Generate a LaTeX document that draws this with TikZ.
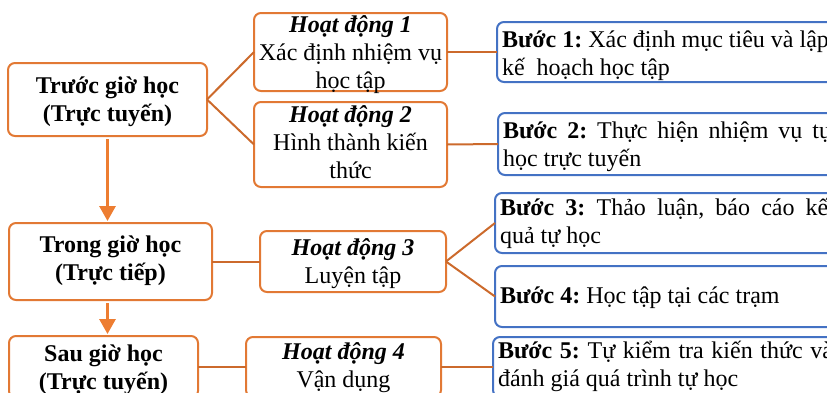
\documentclass[tikz,border=0pt]{standalone}
\usepackage{fontspec}
\setmainfont{Liberation Serif}
\usetikzlibrary{positioning,arrows.meta}
\definecolor{boxorange}{RGB}{226,121,52}
\definecolor{linkorange}{RGB}{204,106,44}
\definecolor{arroworange}{RGB}{237,125,49}
\definecolor{stepblue}{RGB}{68,114,196}
\frenchspacing
\hyphenpenalty=10000
\exhyphenpenalty=10000
\tolerance=10000
\tikzset{phase node/.style={draw=boxorange,line width=2pt,rounded corners=7pt,align=center,inner sep=0pt,outer sep=0pt,anchor=north west,font=\bfseries\fontsize{24}{27.6}\selectfont}}
\tikzset{task node/.style={draw=boxorange,line width=2pt,rounded corners=7pt,align=center,inner sep=0pt,outer sep=0pt,anchor=north west,font=\fontsize{24}{27.6}\selectfont}}
\tikzset{step node/.style={draw=stepblue,line width=2pt,rounded corners=7pt,text width=335pt,align=justify,inner xsep=5pt,inner ysep=0pt,outer sep=0pt,anchor=north west,font=\fontsize{24}{28}\selectfont}}
\tikzset{link line/.style={draw=linkorange,line width=2pt}}
\tikzset{flow arrow/.style={draw=arroworange,line width=3pt,-{Triangle[width=16pt,length=15pt]},shorten <=3pt,shorten >=2pt}}

\begin{document}
\begin{tikzpicture}[x=1pt,y=1pt]
            \useasboundingbox (0,0) rectangle (827,-392);
            \clip (0,0) rectangle (827,-392);

            \node[phase node, minimum width=199pt, minimum height=73pt, text height=58.5pt, text depth=14.5pt] (truoc) at (8,-63) {Trước giờ học\\(Trực tuyến)};
            \node[phase node, minimum width=203pt, minimum height=77pt, text height=57.5pt, text depth=19.5pt] (trong) at (9,-223) {Trong giờ học\\(Trực tiếp)};
            \node[phase node, minimum width=189pt, minimum height=62pt, text height=53.5pt, text depth=8.5pt] (sau) at (9,-336) {Sau giờ học\\(Trực tuyến)};

            \node[task node, minimum width=193pt, minimum height=78pt, text height=75pt, text depth=3pt] (hd1) at (254,-13) {\textbf{\textit{Hoạt động 1}}\\Xác định nhiệm vụ\\học tập};
            \node[task node, minimum width=193pt, minimum height=85pt, text height=76pt, text depth=9pt] (hd2) at (254,-102) {\textbf{\textit{Hoạt động 2}}\\Hình thành kiến\\thức};
            \node[task node, minimum width=186pt, minimum height=61pt, text height=52.5pt, text depth=8.5pt] (hd3) at (260,-231) {\textbf{\textit{Hoạt động 3}}\\Luyện tập};
            \node[task node, minimum width=195pt, minimum height=60pt, text height=50.5pt, text depth=9.5pt] (hd4) at (246,-337) {\textbf{\textit{Hoạt động 4}}\\Vận dụng};

            \node[step node, minimum height=60pt, text height=25pt, text depth=35pt] (buoc1) at (497,-22) {\textbf{Bước 1:} Xác định mục tiêu và lập\\kế~ hoạch học tập};
            \node[step node, minimum height=62pt, text height=25pt, text depth=37pt, text width=329pt] (buoc2) at (498,-113) {\textbf{Bước 2:} Thực hiện nhiệm vụ tự\linebreak học trực tuyến};
            \node[step node, minimum height=60pt, text height=22pt, text depth=38pt] (buoc3) at (495,-193) {\textbf{Bước 3:} Thảo luận, báo cáo kết\linebreak quả tự học};
            \node[step node, minimum height=61pt, text height=37pt, text depth=24pt] (buoc4) at (495,-266) {\textbf{Bước 4:} Học tập tại các trạm};
            \node[step node, minimum height=60pt, text height=21pt, text depth=39pt] (buoc5) at (493,-337) {\textbf{Bước 5:} Tự kiểm tra kiến thức và\linebreak đánh giá quá trình tự học};

            \path[link line]
            (truoc.east) edge (hd1.west)
            (truoc.east) edge (hd2.west)
            (hd1.east) edge (buoc1.west)
            (hd2.east) edge (buoc2.west)
            (trong.east) edge (hd3.west)
            (hd3.east) edge (buoc3.west)
            (hd3.east) edge (buoc4.west)
            (sau.east) edge (hd4.west)
            (hd4.east) edge (buoc5.west);

            \draw[flow arrow] (truoc.south) -- (truoc.south |- trong.north);
            \draw[flow arrow] (trong.south -| truoc.south) -- (truoc.south |- sau.north);
        \end{tikzpicture}
\end{document}
